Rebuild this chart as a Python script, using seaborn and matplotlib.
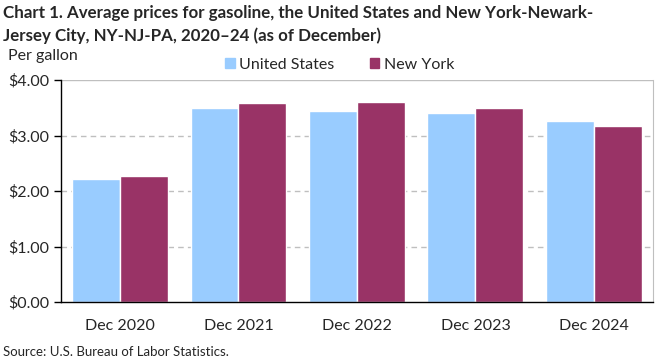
import pandas as pd
import seaborn as sns
from matplotlib import pyplot as plt

# data
years = ['Dec 2020', 'Dec 2021', 'Dec 2022', 'Dec 2023', 'Dec 2024']
us_price = [2.21, 3.49, 3.45, 3.40, 3.27]
ny_price = [2.27, 3.58, 3.60, 3.49, 3.18]
series = ['United States', 'New York']
colors = ['#99CCFF', '#993366']

df = pd.DataFrame({
    'year': years * 2,
    'price': us_price + ny_price,
    'area': [series[0]] * len(years) + [series[1]] * len(years),
})

sns.set_style('white')
plt.rcParams['font.family'] = ['Lato', 'DejaVu Sans']

fig = plt.figure(figsize=(6.61, 3.61), dpi=100)
ax = fig.add_axes([0.092, 0.163, 0.896, 0.615])

sns.barplot(data=df, x='year', y='price', hue='area', palette=colors,
            width=0.81, gap=0, saturation=1, ax=ax, legend=False)

ax.set_ylim(0, 4)
ax.set_xlim(-0.5, len(years) - 0.5)
ax.set_yticks([0, 1, 2, 3, 4])
ax.set_yticklabels(['$%.2f' % v for v in [0, 1, 2, 3, 4]], fontsize=11.5)
ax.set_xticks(range(len(years)))
ax.set_xticklabels(years, fontsize=11.5)
ax.set_xlabel('')
ax.set_ylabel('')

for v in [1, 2, 3]:
    ax.axhline(v, color='#BFBFBF', lw=1, ls=(0, (4, 3)), zorder=0)
ax.axhline(4, color='#BFBFBF', lw=1, zorder=0)

for s in ['left', 'bottom']:
    ax.spines[s].set_color('black')
    ax.spines[s].set_linewidth(1)
ax.spines['top'].set_visible(False)
ax.spines['right'].set_color('#BFBFBF')
ax.tick_params(axis='y', length=5, width=1, color='black', direction='out', left=True, pad=3)
ax.tick_params(axis='x', length=0, pad=12)

# legend
handles = [plt.Rectangle((0, 0), 1, 1, color=c) for c in colors]
fig.legend(handles, series, loc='center', bbox_to_anchor=(0.514, 0.82), ncol=2,
           frameon=False, fontsize=11.5, handlelength=0.6, handleheight=0.6,
           handletextpad=0.3, columnspacing=2.2)

fig.text(0.005, 0.985, 'Chart 1. Average prices for gasoline, the United States and New York-Newark-\nJersey City, NY-NJ-PA, 2020\u201324 (as of December)',
         ha='left', va='top', fontsize=12.2, fontweight='bold', linespacing=1.45)
fig.text(0.012, 0.845, 'Per gallon', ha='left', va='center', fontsize=11.5)
fig.text(0.005, 0.025, 'Source: U.S. Bureau of Labor Statistics.', ha='left', va='center', fontsize=9.5)

plt.savefig('out.png', dpi=100)
